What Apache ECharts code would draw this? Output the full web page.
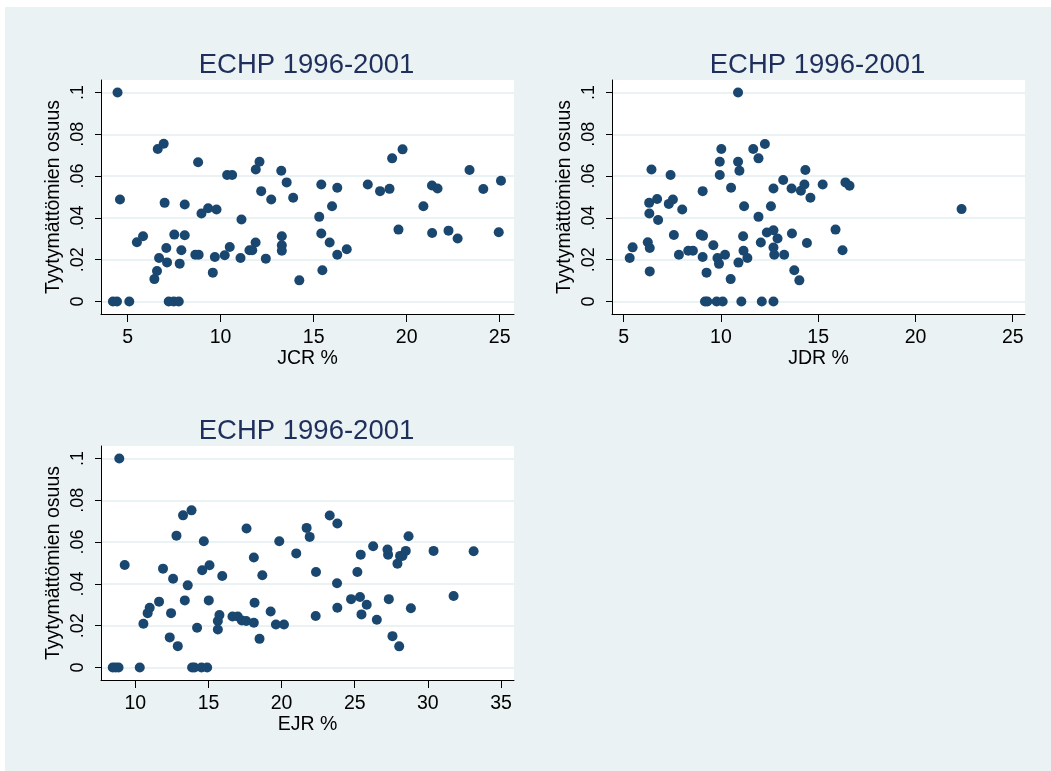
<!DOCTYPE html>
<html>
<head>
<meta charset="utf-8">
<script src="https://cdn.jsdelivr.net/npm/echarts@6.0.0/dist/echarts.min.js"></script>
<style>
  html, body { margin: 0; padding: 0; background: #ffffff; }
  #chart { position: absolute; left: 5px; top: 7px; width: 1046px; height: 764px; }
</style>
</head>
<body>
<div id="chart"></div>
<script>
// ---------------------------------------------------------------------------
// Three scatter panels: share of dissatisfied vs JCR / JDR / EJR (ECHP 1996-2001)
// ---------------------------------------------------------------------------

const panelTitle = 'ECHP 1996-2001'
const yName = 'Tyytymättömien osuus'
const yTicks = [0, 0.02, 0.04, 0.06, 0.08, 0.1]

// JCR % panel
const jcrX = [4.21, 4.43, 4.46, 4.59, 5.09, 5.5, 5.83, 6.44, 6.58, 6.69, 6.62, 6.94, 6.99, 7.08, 7.12,
  7.21, 7.48, 7.75, 7.51, 7.8, 7.89, 8.07, 8.07, 8.79, 8.64, 8.82, 8.97, 9.33, 9.78, 9.58, 9.69,
  10.22, 10.35, 10.62, 10.49, 11.07, 11.12, 11.55, 11.7, 11.88, 11.89, 12.09, 12.18, 12.43, 12.72,
  13.26, 13.29, 13.29, 13.29, 13.55, 13.9, 14.23, 15.3, 15.41, 15.41, 15.47, 15.86, 15.99, 16.27,
  16.27, 16.78, 17.91, 18.57, 19.08, 19.22, 19.56, 19.78, 20.9, 21.36, 21.66, 21.37, 22.25, 22.74,
  23.38, 24.12, 24.95, 25.07]
const jcrY = [0, 0, 0.1, 0.0488, 0, 0.0283, 0.0312, 0.0107, 0.0146, 0.0208, 0.073, 0.0755, 0.0472, 0.0256, 0.0187,
  0, 0, 0, 0.032, 0.0181, 0.0245, 0.0317, 0.0464, 0.0666, 0.0224, 0.0224, 0.0421, 0.0446, 0.044, 0.0138, 0.0213,
  0.0221, 0.0605, 0.0605, 0.0261, 0.0208, 0.0392, 0.0245, 0.0245, 0.0282, 0.0632, 0.0669, 0.0528, 0.0205, 0.0488,
  0.0626, 0.0312, 0.0269, 0.0243, 0.057, 0.0496, 0.0101, 0.0405, 0.056, 0.0325, 0.0149, 0.0282, 0.0456, 0.0544,
  0.0224, 0.025, 0.056, 0.0528, 0.0539, 0.0685, 0.0344, 0.0728, 0.0456, 0.0555, 0.0541, 0.0328, 0.0339, 0.0301,
  0.0629, 0.0538, 0.0331, 0.0578]
const jcrTicks = [5, 10, 15, 20, 25]

// JDR % panel
const jdrX = [5.31, 5.46, 6.24, 6.34, 6.34, 6.31, 6.32, 6.43, 6.72, 6.77, 7.41, 7.32, 7.53, 7.58, 7.84,
  8.01, 8.32, 8.56, 8.96, 9.08, 9.06, 9.06, 9.26, 9.61, 9.18, 9.3, 9.78, 10.09, 9.82, 9.9, 9.94,
  9.94, 10.02, 10.21, 10.5, 10.52, 10.88, 10.88, 10.95, 10.9, 11.05, 11.14, 11.16, 11.19, 11.36,
  11.66, 11.93, 11.93, 12.05, 12.1, 12.26, 12.36, 12.57, 12.7, 12.7, 12.7, 12.7, 12.74, 12.91,
  13.2, 13.25, 13.63, 13.65, 13.77, 14.03, 14.11, 14.29, 14.34, 14.42, 14.6, 15.23, 15.89, 16.25,
  16.4, 16.61, 22.37]
const jdrY = [0.0208, 0.0259, 0.0283, 0.0256, 0.0144, 0.0472, 0.0421, 0.0632, 0.049, 0.039, 0.0605, 0.0467, 0.0488, 0.0318, 0.0224,
  0.044, 0.0243, 0.0243, 0.032, 0.0314, 0.0528, 0.0213, 0.0138, 0.0269, 0, 0, 0, 0, 0.0208, 0.018, 0.0669,
  0.0605, 0.073, 0.0224, 0.0107, 0.0544, 0.1, 0.0669, 0.0626, 0.0186, 0, 0.0312, 0.0243, 0.0456, 0.0208,
  0.073, 0.0685, 0.0405, 0.0282, 0, 0.0754, 0.033, 0.0456, 0.0541, 0.0341, 0.0258, 0, 0.0224, 0.0301,
  0.0581, 0.0224, 0.0541, 0.0325, 0.0149, 0.0101, 0.053, 0.056, 0.0629, 0.028, 0.0496, 0.056, 0.0344, 0.0245,
  0.057, 0.0554, 0.0442]
const jdrTicks = [5, 10, 15, 20, 25]

// EJR % panel
const ejrX = [8.45, 8.65, 8.85, 8.9, 9.27, 10.3, 10.55, 10.84, 10.98, 11.62, 11.89, 12.35, 12.44, 12.58, 12.81,
  12.9, 13.26, 13.38, 13.58, 13.84, 13.88, 14.04, 14.22, 14.57, 14.68, 14.52, 14.91, 15.07, 15.02,
  15.64, 15.75, 15.64, 15.94, 16.64, 17.0, 17.28, 17.58, 17.6, 18.1, 18.1, 18.15, 18.49, 18.68,
  19.25, 19.61, 20.16, 19.84, 21.0, 21.71, 21.92, 22.35, 22.33, 23.29, 23.81, 23.79, 23.81, 24.75,
  25.18, 25.36, 25.41, 25.46, 25.82, 26.26, 26.51, 27.24, 27.28, 27.33, 27.58, 27.92, 28.04, 28.1,
  28.26, 28.49, 28.68, 28.84, 30.39, 31.76, 33.13]
const ejrY = [0, 0, 0, 0.1, 0.049, 0, 0.0209, 0.026, 0.0286, 0.0315, 0.0473, 0.0144, 0.026, 0.0425, 0.0631,
  0.0102, 0.0728, 0.0321, 0.0393, 0.0752, 0, 0, 0.019, 0.0465, 0.0604, 0, 0, 0.0489, 0.0321,
  0.0222, 0.0251, 0.0182, 0.0438, 0.0244, 0.0244, 0.0225, 0.0222, 0.0665, 0.0214, 0.0526, 0.031, 0.0137, 0.0441,
  0.0268, 0.0206, 0.0206, 0.0604, 0.0546, 0.0668, 0.0625, 0.0457, 0.0246, 0.0727, 0.0689, 0.0403, 0.0286, 0.0327,
  0.0457, 0.0337, 0.054, 0.0254, 0.03, 0.058, 0.0228, 0.0565, 0.054, 0.0327, 0.015, 0.0497, 0.0101, 0.0534,
  0.0534, 0.0558, 0.0628, 0.0283, 0.0558, 0.0342, 0.0556]
const ejrTicks = [10, 15, 20, 25, 30, 35]

const FONT = '"Liberation Sans", Arial, sans-serif'
const MARKER = '#1a476f'
const TITLE_COLOR = '#1f2f5c'
const BG = '#eaf2f3'

// panel layout (container pixels) and axis ranges
const panels = [
  { xs: jcrX, ys: jcrY, ticks: jcrTicks, name: 'JCR %', min: 3.57, max: 25.77, left: 96, top: 73 },
  { xs: jdrX, ys: jdrY, ticks: jdrTicks, name: 'JDR %', min: 4.4, max: 25.63, left: 607, top: 73 },
  { xs: ejrX, ys: ejrY, ticks: ejrTicks, name: 'EJR %', min: 7.65, max: 35.89, left: 96, top: 439 },
]
const GRID_W = 413
const GRID_H = 234

function yLabel(v) {
  if (v === 0) return '0'
  return String(+v.toFixed(2)).replace(/^0\./, '.')
}

const option = {
  backgroundColor: BG,
  animation: false,
  textStyle: { fontFamily: FONT },
  title: panels.map((p) => ({
    text: panelTitle,
    left: p.left + GRID_W / 2 - 6,
    top: p.top - 34,
    textAlign: 'center',
    textStyle: { fontFamily: FONT, fontSize: 27.5, fontWeight: 'normal', color: TITLE_COLOR },
  })),
  grid: panels.map((p) => ({
    left: p.left, top: p.top, width: GRID_W, height: GRID_H,
    show: true, backgroundColor: '#ffffff', borderWidth: 0,
  })),
  xAxis: panels.map((p, i) => ({
    type: 'value', gridIndex: i, min: p.min, max: p.max,
    name: p.name, nameLocation: 'middle', nameGap: 30,
    nameTextStyle: { fontFamily: FONT, fontSize: 19.5, color: '#000' },
    axisLine: { onZero: false, lineStyle: { color: '#000', width: 1 } },
    axisTick: { customValues: p.ticks, length: 8, lineStyle: { color: '#000' } },
    axisLabel: { customValues: p.ticks, margin: 14, fontFamily: FONT, fontSize: 19.5, color: '#000' },
    splitLine: { show: false },
  })),
  yAxis: panels.map((p, i) => ({
    type: 'value', gridIndex: i, min: -0.006, max: 0.106,
    name: yName, nameLocation: 'middle', nameGap: 37,
    nameTextStyle: { fontFamily: FONT, fontSize: 19.5, color: '#000' },
    axisLine: { show: true, onZero: false, lineStyle: { color: '#000', width: 1 } },
    axisTick: { show: true, customValues: yTicks, length: 6, lineStyle: { color: '#000' } },
    axisLabel: { customValues: yTicks, rotate: 90, margin: 14, fontFamily: FONT, fontSize: 18,
      color: '#000', formatter: yLabel },
    splitLine: { show: true, lineStyle: { color: BG, width: 2 } },
  })),
  series: panels.map((p, i) => ({
    type: 'scatter', xAxisIndex: i, yAxisIndex: i,
    symbol: 'circle', symbolSize: 10,
    itemStyle: { color: MARKER, opacity: 1 },
    silent: true,
    data: p.xs.map((x, k) => [x, p.ys[k]]),
  })),
}

const chart = echarts.init(document.getElementById('chart'), null, { renderer: 'canvas' })
chart.setOption(option)
</script>
</body>
</html>
